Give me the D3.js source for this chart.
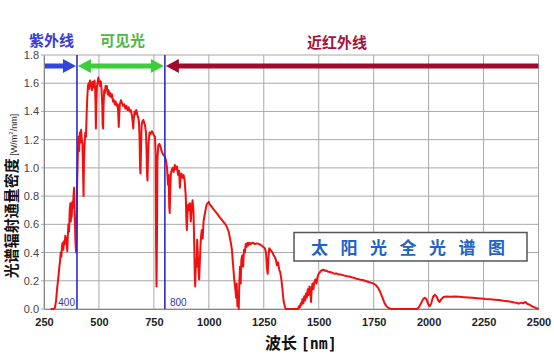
<!DOCTYPE html>
<html>
<head>
<meta charset="utf-8">
<script src="https://cdn.jsdelivr.net/npm/d3@7"></script>
<style>
  body { margin: 0; background: #fff; }
  text { font-family: "Liberation Sans", Arial, sans-serif; }
  .cjk { font-family: "Noto Sans CJK SC", sans-serif; font-weight: 700; }
</style>
</head>
<body>
<div id="chart"></div>
<script>
// solar spectrum: [wavelength nm, W/m2/nm]
const spectrum = [
  [280,0],[295,0],[300,0.01],[305,0.06],[310,0.15],[315,0.22],[320,0.30],[323,0.34],[326,0.40],[329,0.37],
  [332,0.45],[335,0.47],[338,0.42],[341,0.48],[344,0.46],[347,0.52],[350,0.50],[353,0.46],[356,0.41],[358,0.50],
  [361,0.60],[364,0.55],[367,0.70],[370,0.75],[372,0.62],[374,0.70],[376,0.65],[379,0.76],[382,0.72],[385,0.82],
  [387,0.86],[389,0.70],[391,0.60],[393,0.48],[395,0.42],[397,0.40],[399,0.62],[401,0.90],[404,1.10],[407,1.22],
  [410,1.12],[413,1.25],[416,1.18],[419,1.27],[422,1.20],[425,1.17],[428,0.95],[430,0.80],[432,1.05],[435,1.18],
  [438,1.25],[441,1.22],[444,1.38],[447,1.50],[450,1.58],[453,1.60],[456,1.56],[459,1.62],[462,1.58],[465,1.60],
  [468,1.55],[471,1.61],[474,1.57],[477,1.59],[480,1.62],[483,1.55],[485,1.40],[486,1.28],[488,1.45],[491,1.58],
  [494,1.61],[497,1.64],[500,1.60],[503,1.62],[506,1.58],[509,1.61],[512,1.55],[515,1.45],[517,1.30],[519,1.28],
  [521,1.45],[524,1.55],[527,1.53],[530,1.58],[533,1.56],[536,1.58],[540,1.52],[544,1.55],[548,1.51],[552,1.53],
  [556,1.50],[560,1.52],[564,1.47],[568,1.48],[572,1.45],[576,1.47],[580,1.44],[585,1.45],[588,1.38],[590,1.29],
  [592,1.36],[595,1.45],[600,1.48],[605,1.46],[610,1.44],[615,1.45],[620,1.42],[625,1.44],[630,1.41],[635,1.43],
  [640,1.40],[645,1.41],[650,1.37],[654,1.32],[656,1.28],[658,1.34],[662,1.40],[666,1.38],[670,1.41],[674,1.38],
  [678,1.36],[682,1.33],[685,1.20],[687,1.00],[689,0.96],[691,1.10],[694,1.30],[698,1.33],[702,1.34],[706,1.32],
  [710,1.30],[714,1.25],[717,1.10],[719,0.95],[721,0.91],[723,1.05],[726,1.18],[730,1.25],[735,1.24],[740,1.26],
  [745,1.25],[750,1.23],[755,1.22],[758,1.10],[760,0.45],[762,0.16],[764,0.50],[766,1.05],[770,1.16],[775,1.17],
  [780,1.15],[785,1.12],[790,1.10],[795,1.09],[800,1.08],[805,1.05],[810,1.00],[814,0.88],[817,0.95],[820,0.72],
  [822,0.68],[824,0.82],[827,0.95],[830,0.98],[835,1.00],[840,0.97],[845,1.02],[850,0.99],[855,1.01],[860,0.95],
  [865,0.98],[868,0.86],[871,0.92],[875,0.96],[880,0.93],[885,0.95],[890,0.91],[895,0.80],[898,0.62],[900,0.56],
  [903,0.68],[906,0.74],[910,0.70],[914,0.75],[918,0.62],[922,0.72],[926,0.77],[930,0.70],[933,0.50],[936,0.25],
  [938,0.16],[941,0.35],[944,0.30],[947,0.49],[950,0.38],[953,0.28],[956,0.21],[959,0.33],[962,0.45],[965,0.52],
  [968,0.56],[972,0.50],[976,0.62],[980,0.66],[985,0.70],[990,0.74],[995,0.75],[1000,0.76],[1005,0.74],[1010,0.73],
  [1020,0.71],[1030,0.69],[1040,0.67],[1050,0.65],[1060,0.63],[1070,0.61],[1080,0.59],[1090,0.55],[1100,0.47],[1105,0.42],
  [1110,0.32],[1115,0.22],[1120,0.15],[1124,0.08],[1127,0.18],[1130,0.02],[1133,0.10],[1136,0],[1139,0.20],[1142,0.30],
  [1145,0.18],[1148,0.35],[1152,0.38],[1156,0.30],[1160,0.42],[1164,0.40],[1168,0.46],[1172,0.44],[1176,0.47],[1180,0.45],
  [1185,0.47],[1190,0.46],[1200,0.47],[1210,0.46],[1220,0.465],[1230,0.46],[1240,0.45],[1248,0.44],[1255,0.43],[1260,0.40],
  [1265,0.28],[1268,0.25],[1271,0.36],[1275,0.43],[1280,0.42],[1285,0.41],[1290,0.40],[1295,0.38],[1300,0.37],[1305,0.35],
  [1310,0.31],[1315,0.33],[1320,0.28],[1325,0.26],[1330,0.21],[1335,0.14],[1340,0.06],[1345,0.02],[1350,0],[1405,0],
  [1410,0.02],[1414,0.01],[1418,0.04],[1422,0.03],[1426,0.07],[1430,0.04],[1434,0.09],[1438,0.06],[1442,0.11],[1446,0.08],
  [1450,0.14],[1454,0.10],[1458,0.16],[1462,0.12],[1465,0.05],[1468,0.15],[1472,0.18],[1476,0.14],[1480,0.19],[1485,0.21],
  [1490,0.18],[1495,0.23],[1500,0.25],[1505,0.26],[1510,0.27],[1515,0.275],[1520,0.278],[1525,0.276],[1530,0.27],[1535,0.272],
  [1540,0.265],[1550,0.262],[1560,0.258],[1570,0.25],[1580,0.252],[1590,0.245],[1600,0.244],[1610,0.24],[1620,0.235],[1630,0.232],
  [1640,0.23],[1650,0.225],[1660,0.222],[1670,0.215],[1680,0.212],[1690,0.207],[1700,0.205],[1710,0.20],[1720,0.195],[1730,0.19],
  [1740,0.185],[1750,0.18],[1760,0.17],[1770,0.15],[1780,0.12],[1790,0.08],[1800,0.04],[1810,0.016],[1820,0.005],[1830,0],
  [1945,0],[1955,0.01],[1965,0.04],[1975,0.07],[1982,0.08],[1990,0.07],[1998,0.035],[2005,0.02],[2012,0.04],[2020,0.085],
  [2028,0.10],[2036,0.09],[2044,0.06],[2050,0.05],[2058,0.07],[2068,0.085],[2080,0.088],[2100,0.087],[2120,0.088],[2140,0.086],
  [2160,0.084],[2180,0.082],[2200,0.08],[2220,0.077],[2240,0.074],[2260,0.071],[2280,0.069],[2300,0.066],[2320,0.063],[2340,0.058],
  [2360,0.055],[2380,0.05],[2390,0.046],[2400,0.044],[2410,0.038],[2420,0.045],[2430,0.04],[2440,0.05],[2450,0.035],[2460,0.03],
  [2470,0.02],[2480,0.013],[2490,0.006],[2500,0]
];

const xTicks = [250, 500, 750, 1000, 1250, 1500, 1750, 2000, 2250, 2500];
const yTicks = [0, 0.2, 0.4, 0.6, 0.8, 1.0, 1.2, 1.4, 1.6, 1.8];
const boundaries = [400, 800];          // blue divider lines
const bandLabels = ["紫外线", "可见光", "近红外线"];
const titleText = "太阳光全光谱图";

const width = 554, height = 356;
const margin = { top: 55, right: 15.5, bottom: 47, left: 44 };

const svg = d3.select("#chart").append("svg")
    .attr("width", width)
    .attr("height", height);

const x = d3.scaleLinear().domain([250, 2500]).range([margin.left, width - margin.right]);
const y = d3.scaleLinear().domain([0, 1.8]).range([height - margin.bottom, margin.top]);

// grid
svg.append("g").selectAll("line")
    .data(xTicks)
    .enter().append("line")
    .attr("x1", d => x(d)).attr("x2", d => x(d))
    .attr("y1", y(0)).attr("y2", y(1.8))
    .attr("stroke", "#a8a8a8").attr("stroke-width", 1);

svg.append("g").selectAll("line")
    .data(yTicks)
    .enter().append("line")
    .attr("x1", x(250) - 3).attr("x2", x(2500))
    .attr("y1", d => y(d)).attr("y2", d => y(d))
    .attr("stroke", "#a8a8a8").attr("stroke-width", 1);

// axes (labels only)
const yAxis = svg.append("g")
    .attr("transform", `translate(${x(250)},0)`)
    .call(d3.axisLeft(y).tickValues(yTicks).tickFormat(d3.format(".1f")).tickSize(0).tickPadding(5));
yAxis.select(".domain").attr("stroke", "#888");
yAxis.selectAll("text").style("font-size", "11px").attr("fill", "#444");

const xAxis = svg.append("g")
    .attr("transform", `translate(0,${y(0)})`)
    .call(d3.axisBottom(x).tickValues(xTicks).tickFormat(d3.format("d")).tickSize(0).tickPadding(9));
xAxis.select(".domain").attr("stroke", "#888");
xAxis.selectAll("text").style("font-size", "11px").style("font-weight", "bold").attr("fill", "#222");

// spectrum
const line = d3.line().x(d => x(d[0])).y(d => y(d[1]));
svg.append("path")
    .datum(spectrum)
    .attr("d", line)
    .attr("fill", "none")
    .attr("stroke", "#f01010")
    .attr("stroke-width", 2)
    .attr("stroke-linejoin", "round");

// dividers at 400 / 800
svg.append("g").selectAll("line")
    .data(boundaries)
    .enter().append("line")
    .attr("x1", d => x(d)).attr("x2", d => x(d))
    .attr("y1", y(0)).attr("y2", y(1.8))
    .attr("stroke", "#2b2bd0").attr("stroke-width", 1.6);

svg.append("g").selectAll("text")
    .data(boundaries)
    .enter().append("text")
    .attr("x", (d, i) => i == 0 ? x(d) - 2 : x(d) + 5)
    .attr("y", y(0) - 3)
    .attr("text-anchor", (d, i) => i == 0 ? "end" : "start")
    .style("font-size", "10px")
    .attr("fill", "#3535b0")
    .text(d => d);

// band arrows
const ay = y(1.8) + 11;
function arrowHead(tipX, dir, color) {
    svg.append("path")
        .attr("d", `M${tipX},${ay} L${tipX - dir * 13},${ay - 7} L${tipX - dir * 13},${ay + 7} Z`)
        .attr("fill", color);
}
function shaft(x1, x2, color) {
    svg.append("rect")
        .attr("x", x1).attr("y", ay - 2.5)
        .attr("width", x2 - x1).attr("height", 5)
        .attr("fill", color);
}
shaft(x(250) + 1, x(400) - 10, "#3344dd");
arrowHead(x(400) - 1, 1, "#3344dd");

shaft(x(400) + 10, x(800) - 10, "#3ccc3c");
arrowHead(x(400) + 1, -1, "#3ccc3c");
arrowHead(x(800) - 1, 1, "#3ccc3c");

shaft(x(800) + 10, x(2500), "#a00a2c");
arrowHead(x(800) + 1, -1, "#a00a2c");

// band labels
const bandPos = [[29, 46, "#3a3ad6"], [100, 46, "#4db848"], [307, 48, "#a3143c"]];
svg.append("g").selectAll("text")
    .data(bandLabels)
    .enter().append("text")
    .attr("class", "cjk")
    .attr("x", (d, i) => bandPos[i][0])
    .attr("y", (d, i) => bandPos[i][1])
    .attr("fill", (d, i) => bandPos[i][2])
    .style("font-size", "15px")
    .text(d => d);

// axis titles
const yTitle = svg.append("text")
    .attr("transform", `translate(17,${(y(0) + y(1.8)) / 2 + 14}) rotate(-90)`)
    .attr("text-anchor", "middle");
yTitle.append("tspan").attr("class", "cjk").style("font-size", "15px").attr("fill", "#111").text("光谱辐射通量密度");
yTitle.append("tspan").style("font-size", "9px").attr("fill", "#333").text(" [W/m");
yTitle.append("tspan").style("font-size", "6px").attr("dy", -4).attr("fill", "#333").text("2");
yTitle.append("tspan").style("font-size", "9px").attr("dy", 4).attr("fill", "#333").text("/nm]");

const xTitle = svg.append("text")
    .attr("x", 265).attr("y", 349)
    .attr("fill", "#111");
xTitle.append("tspan").attr("class", "cjk").style("font-size", "16px").text("波长 ");
xTitle.append("tspan").style("font-size", "15px").style("font-weight", "bold")
    .style("font-family", "'DejaVu Sans Mono', monospace").text("[nm]");

// title box
svg.append("rect")
    .attr("x", 294).attr("y", 232.5)
    .attr("width", 233).attr("height", 28.5)
    .attr("fill", "#fff")
    .attr("stroke", "#555")
    .attr("stroke-width", 1.5);

svg.append("g").selectAll("text")
    .data(titleText.split(""))
    .enter().append("text")
    .attr("class", "cjk")
    .attr("x", (d, i) => 311 + i * 29.5)
    .attr("y", 254)
    .attr("fill", "#1e63c6")
    .style("font-size", "17px")
    .text(d => d);
</script>
</body>
</html>
